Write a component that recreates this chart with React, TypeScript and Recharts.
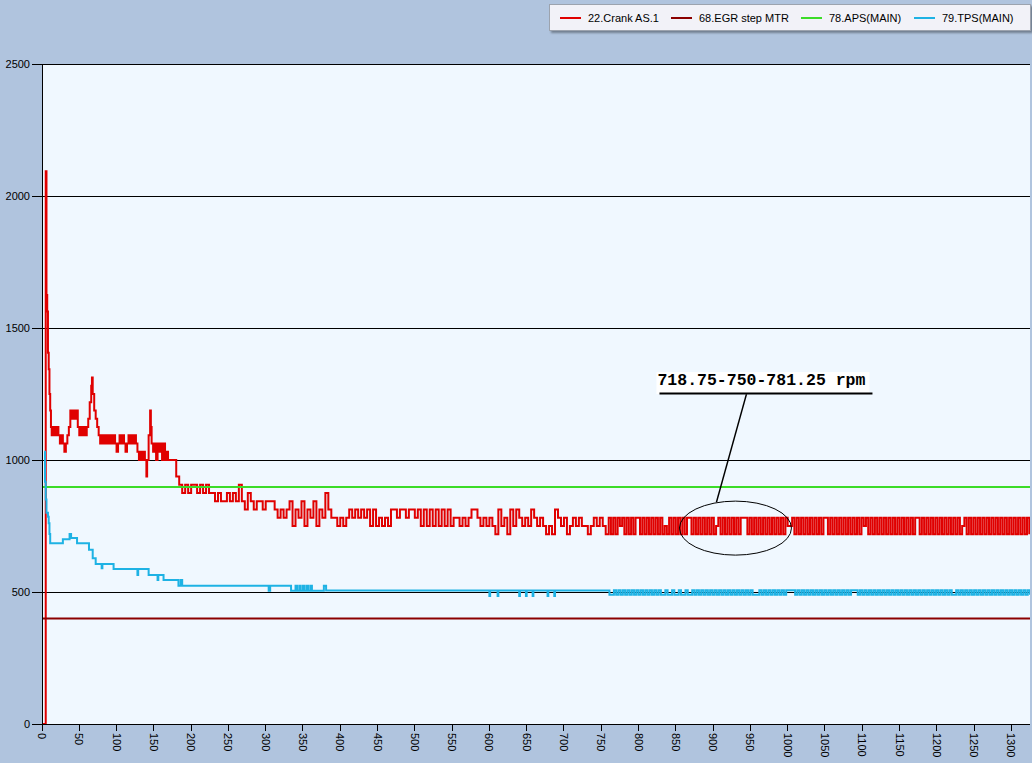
import React from "react";
import {
  LineChart,
  Line,
  XAxis,
  YAxis,
  CartesianGrid,
  ReferenceDot,
} from "recharts";

// sample index -> value
const seriesNames = ["22.Crank AS.1", "68.EGR step MTR", "78.APS(MAIN)", "79.TPS(MAIN)"];
const seriesColors = ["#E00000", "#8B0000", "#3CDC28", "#1EB2E4"];

const xTicks = [0, 50, 100, 150, 200, 250, 300, 350, 400, 450, 500, 550, 600, 650, 700, 750, 800, 850, 900, 950, 1000, 1050, 1100, 1150, 1200, 1250, 1300];
const yTicks = [0, 500, 1000, 1500, 2000, 2500];

// crank speed levels (rpm steps of 31.25)
const H = 781.25;
const M = 750;
const L = 718.75;

const crankEarly = [
  [0, 0], [4, 0], [5, 2093.75], [6, 1625], [7, 1562.5], [8, 1406.25], [9, 1343.75], [10, 1250],
  [11, 1187.5], [12, 1125], [13, 1093.75], [15, 1125], [16, 1093.75], [18, 1125], [19, 1093.75],
  [21, 1125], [22, 1093.75], [24, 1062.5], [26, 1093.75], [28, 1062.5], [30, 1031.25], [32, 1062.5],
  [34, 1093.75], [36, 1125], [38, 1187.5], [40, 1156.25], [42, 1187.5], [44, 1156.25], [46, 1187.5],
  [48, 1125], [50, 1093.75], [52, 1125], [54, 1093.75], [56, 1125], [58, 1093.75], [60, 1125],
  [62, 1156.25], [64, 1218.75], [66, 1281.25], [67, 1312.5], [68, 1250], [70, 1187.5], [72, 1156.25],
  [74, 1125], [76, 1093.75], [78, 1062.5], [80, 1093.75], [82, 1062.5], [84, 1093.75], [86, 1062.5],
  [88, 1093.75], [90, 1062.5], [92, 1093.75], [94, 1062.5], [96, 1093.75], [98, 1062.5], [100, 1031.25],
  [102, 1062.5], [104, 1093.75], [106, 1062.5], [108, 1093.75], [110, 1062.5], [112, 1031.25],
  [114, 1062.5], [116, 1093.75], [118, 1062.5], [120, 1093.75], [122, 1062.5], [124, 1093.75],
  [126, 1062.5], [128, 1031.25], [130, 1000], [132, 1031.25], [134, 1000], [136, 1031.25], [138, 1000],
  [140, 937.5], [141, 1000], [143, 1093.75], [145, 1187.5], [146, 1125], [147, 1062.5], [149, 1031.25],
  [151, 1062.5], [153, 1000], [155, 1062.5], [157, 1031.25], [159, 1062.5], [161, 1000], [163, 1062.5],
  [165, 1000], [167, 1031.25], [169, 1000],
];

// every 4 samples from 180
const crankMid = [
  937.5, 906.25, 875, 906.25, 875, 906.25, 906.25, 875, 906.25, 875,
  906.25, 875, 875, 843.75, 875, 843.75, 843.75, 875, 843.75, 875,
  843.75, 906.25, 843.75, 812.5, 875, 843.75, 812.5, 843.75, 843.75, 812.5,
  843.75, 843.75, 843.75, 812.5, 781.25, 812.5, 781.25, 812.5, 843.75, 750,
  812.5, 781.25, 843.75, 750, 812.5, 781.25, 843.75, 750, 812.5, 781.25,
  875, 812.5, 781.25, 781.25, 750, 781.25, 750, 781.25, 812.5, 781.25,
  812.5, 781.25, 812.5, 781.25, 812.5, 750, 812.5, 750, 781.25, 750,
  781.25, 750, 812.5, 812.5, 781.25, 812.5, 812.5, 781.25, 812.5, 812.5,
  781.25, 812.5, 750, 812.5, 750, 812.5, 750, 812.5, 750, 812.5,
  750, 812.5, 750, 781.25, 781.25, 750, 781.25, 750, 781.25, 812.5,
  812.5, 781.25, 750, 781.25, 750, 781.25, 750, 718.75, 812.5, 750,
  781.25, 718.75, 812.5, 750, 812.5, 781.25, 750, 781.25, 750, 812.5,
  781.25, 750, 781.25, 750, 718.75, 750, 718.75, 812.5, 781.25, 750,
  781.25, 718.75, 750, 781.25, 750, 781.25, 750, 750, 718.75, 750,
  781.25, 750, 781.25, 750, 718.75,
];

// every 3 samples from 760
const crankTail = [
  H, L, H, L, H, M, H, L, H, L,
  H, L, H, H, L, H, L, H, L, H,
  L, H, L, H, L, M, L, H, L, H,
  L, H, L, H, L, H, H, L, H, L,
  H, L, H, L, H, L, H, L, M, H,
  L, H, L, H, L, H, L, H, L, H,
  H, H, L, H, L, H, L, H, L, H,
  L, H, L, H, L, H, L, H, L, H,
  M, M, H, L, H, L, H, L, H, L,
  H, L, H, L, H, L, H, H, L, H,
  L, H, L, H, L, H, L, H, L, H,
  L, H, L, H, M, H, L, H, L, H,
  L, H, L, H, L, H, L, H, L, H,
  L, H, L, H, L, H, L, H, H, L,
  H, L, H, L, H, L, H, L, H, L,
  H, L, H, L, H, L, H, L, M, H,
  L, H, L, H, L, H, L, H, L, H,
  L, H, L, H, L, H, L, H, L, H,
  L, H, L, H, L, H, L, H, L,
];

const egrSteps = [[0, 400], [1325, 400]];
const apsSteps = [[0, 898], [1325, 898]];

const tpsEarly = [
  [3, 1031], [4, 918], [5, 850], [6, 800], [8, 785], [9, 760], [10, 720], [11, 685], [28, 700],
  [37, 720], [39, 705], [47, 685], [63, 660], [68, 628], [72, 606], [80, 590], [81, 606], [96, 587],
  [128, 564], [129, 587], [143, 564], [155, 545], [156, 564], [163, 545], [183, 524], [186, 545],
  [188, 524], [304, 505], [306, 524], [334, 505], [340, 524], [342, 505], [345, 524], [347, 505],
  [350, 524], [352, 505], [355, 524], [357, 505], [360, 524], [362, 505], [378, 524], [381, 506],
  [600, 485], [601, 506], [611, 485], [612, 506], [640, 485], [641, 506], [649, 485], [650, 506],
  [658, 485], [659, 506], [678, 485], [679, 506], [687, 485], [688, 506],
];

const TH = 507;
const TL = 490;
// every 3 samples from 761
const tpsTail = [
  TL, TL, TH, TL, TH, TL, TH, TL, TH, TL,
  TH, TL, TH, TL, TH, TL, TH, TL, TH, TL,
  TH, TL, TH, TL, TL, TH, TL, TL, TH, TL,
  TL, TH, TL, TL, TH, TL, TL, TH, TL, TH,
  TL, TH, TL, TH, TL, TH, TL, TH, TL, TH,
  TL, TH, TL, TH, TL, TH, TL, TH, TL, TH,
  TL, TH, TL, TH, TL, TL, TL, TH, TL, TH,
  TL, TH, TL, TH, TL, TH, TL, TH, TL, TH,
  TH, TH, TH, TL, TH, TL, TH, TL, TH, TL,
  TH, TL, TH, TL, TH, TL, TH, TL, TH, TL,
  TH, TL, TH, TL, TH, TL, TH, TL, TH, TH,
  TH, TL, TH, TL, TH, TL, TH, TL, TH, TL,
  TH, TL, TH, TL, TH, TL, TH, TL, TH, TL,
  TH, TL, TH, TL, TH, TL, TH, TL, TH, TL,
  TH, TL, TH, TL, TH, TL, TH, TL, TH, TL,
  TH, TL, TH, TL, TL, TH, TL, TH, TL, TH,
  TL, TH, TL, TH, TL, TH, TL, TH, TL, TH,
  TL, TH, TL, TH, TL, TH, TL, TH, TL, TH,
  TL, TH, TL, TH, TL, TH, TL, TH, TL,
];

const pts = (list: number[][]) => list.map(([s, v]) => ({ s, v }));
const run = (start: number, step: number, vals: number[]) => vals.map((v, i) => ({ s: start + i * step, v }));

const crankData = [...pts(crankEarly), ...run(180, 4, crankMid), ...run(760, 3, crankTail)];
const egrData = pts(egrSteps);
const apsData = pts(apsSteps);
const tpsData = [...pts(tpsEarly), ...run(761, 3, tpsTail)];

const allSeries = [crankData, egrData, apsData, tpsData];

const FONT = "'Liberation Sans', Arial, sans-serif";

const XTick = (props: any) => {
  const { x, y, payload } = props;
  return (
    <text
      x={x}
      y={y}
      transform={`rotate(90 ${x} ${y})`}
      textAnchor="start"
      dominantBaseline="central"
      fontSize={11}
      fontFamily={FONT}
      fill="#000"
    >
      {payload.value}
    </text>
  );
};

const Callout = (props: any) => {
  const { cx, cy } = props;
  if (cx == null || cy == null) return null;
  return (
    <g>
      <ellipse cx={cx} cy={cy} rx={56} ry={27} fill="none" stroke="#000" strokeWidth={1} />
      <line x1={cx + 11} y1={cy - 134} x2={cx - 19} y2={cy - 26} stroke="#000" strokeWidth={1.5} />
      <rect x={cx - 79} y={cy - 156} width={213} height={22} fill="#fff" />
      <line x1={cx - 76} y1={cy - 134.5} x2={cx + 137} y2={cy - 134.5} stroke="#000" strokeWidth={2} />
      <text
        x={cx - 78}
        y={cy - 143}
        fontFamily="'Liberation Mono', 'Courier New', monospace"
        fontWeight="bold"
        fontSize={16.5}
        fill="#000"
      >
        718.75-750-781.25 rpm
      </text>
    </g>
  );
};

const legendLeft = [10, 121, 251, 364];

export default function App() {
  return (
    <div
      style={{
        position: "absolute",
        left: 0,
        top: 0,
        width: 1032,
        height: 763,
        background: "#B0C4DE",
        fontFamily: FONT,
      }}
    >
      <style>{`
        .recharts-cartesian-grid-horizontal line,
        .recharts-cartesian-axis-line,
        .recharts-cartesian-axis-tick-line { shape-rendering: crispEdges; stroke: #000; stroke-opacity: 1; }
      `}</style>
      <LineChart width={1032} height={763} margin={{ top: 64, right: 2, bottom: 0, left: 0 }}>
        <CartesianGrid
          vertical={false}
          stroke="#000"
          strokeOpacity={1}
          fill="#F0F8FF"
          fillOpacity={1}
        />
        <XAxis
          dataKey="s"
          type="number"
          domain={[0, 1325]}
          allowDataOverflow
          ticks={xTicks}
          interval={0}
          height={39}
          tickSize={7}
          tickMargin={2}
          stroke="#000"
          tick={XTick}
        />
        <YAxis
          type="number"
          domain={[0, 2500]}
          ticks={yTicks}
          interval={0}
          width={42}
          tickSize={10}
          tickMargin={2}
          stroke="#000"
          tick={{ fill: "#000", fontSize: 11, fontFamily: FONT }}
        />
        {allSeries.map((d, i) => (
          <Line
            key={seriesNames[i]}
            data={d}
            dataKey="v"
            type="stepAfter"
            stroke={seriesColors[i]}
            strokeWidth={2}
            dot={false}
            activeDot={false}
            isAnimationActive={false}
          />
        ))}
        <ReferenceDot x={930} y={742} ifOverflow="visible" shape={Callout} />
      </LineChart>
      <div
        style={{
          position: "absolute",
          left: 549,
          top: 4,
          width: 480,
          height: 25,
          background: "#F2F2F8",
          border: "1px solid #9CA3AE",
          boxShadow: "2px 2px 2px rgba(0,0,0,0.35)",
          fontSize: 11,
          color: "#000",
        }}
      >
        {seriesNames.map((name, i) => (
          <div
            key={name}
            style={{
              position: "absolute",
              left: legendLeft[i],
              top: 0,
              height: 25,
              display: "flex",
              alignItems: "center",
              whiteSpace: "nowrap",
            }}
          >
            <span style={{ display: "inline-block", width: 21, height: 2, background: seriesColors[i], marginRight: 7 }} />
            <span>{name}</span>
          </div>
        ))}
      </div>
    </div>
  );
}
